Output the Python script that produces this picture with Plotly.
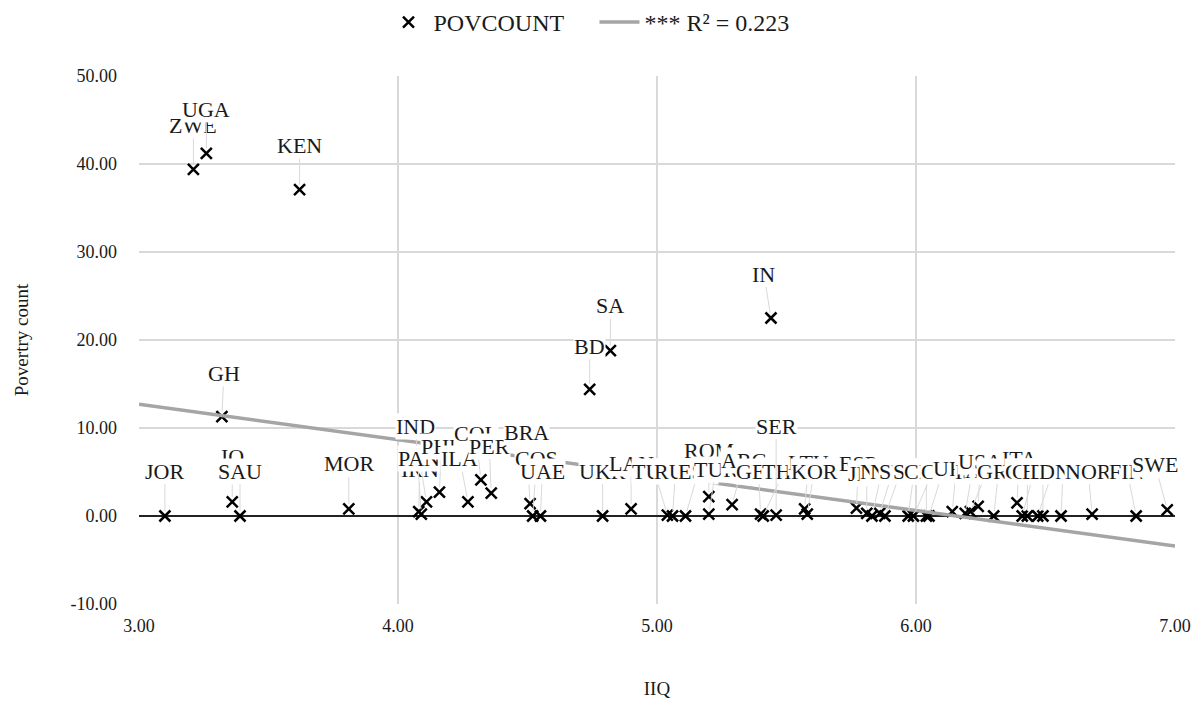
import plotly.graph_objects as go

# ---- data ----
countries = ["JOR", "IQ", "SAU", "GH", "ZWE", "UGA", "KEN", "MOR", "IRN", "IND",
             "PAN", "PHP", "ILA", "COL", "PER", "BRA", "COS", "UAE", "BD", "UKR",
             "SA", "LAN", "TUN", "RUS", "EST", "ROM", "TUR", "ARG", "GEO", "THA",
             "IN", "SER", "LTU", "KOR", "ESP", "JPN", "NZL", "NLD", "SVK", "SLO",
             "CZE", "CRO", "CYP", "URU", "ISR", "AUS", "USA", "GRE", "ITA", "CHL",
             "CHE", "BEL", "DEU", "DNK", "NOR", "FIN", "SWE"]
iiq = [3.10, 3.36, 3.39, 3.32, 3.21, 3.26, 3.62, 3.81, 4.08, 4.09,
       4.11, 4.16, 4.27, 4.32, 4.36, 4.51, 4.52, 4.55, 4.74, 4.79,
       4.82, 4.90, 5.04, 5.06, 5.11, 5.20, 5.20, 5.29, 5.40, 5.41,
       5.44, 5.46, 5.57, 5.58, 5.77, 5.81, 5.83, 5.86, 5.88, 5.97,
       5.99, 6.04, 6.05, 6.14, 6.19, 6.21, 6.24, 6.30, 6.39, 6.43,
       6.41, 6.49, 6.47, 6.56, 6.68, 6.85, 6.97]
povcount = [0.0, 1.6, 0.0, 11.3, 39.4, 41.2, 37.1, 0.8, 0.5, 0.2,
            1.6, 2.7, 1.6, 4.1, 2.6, 1.4, 0.0, 0.0, 14.4, 0.0,
            18.8, 0.8, 0.1, 0.0, 0.0, 2.2, 0.2, 1.3, 0.2, 0.0,
            22.5, 0.1, 0.8, 0.2, 0.9, 0.3, 0.0, 0.3, 0.0, 0.0,
            0.0, 0.0, 0.0, 0.5, 0.3, 0.5, 1.1, 0.0, 1.5, 0.0,
            0.0, 0.0, 0.0, 0.0, 0.2, 0.0, 0.7]

# regression trendline end points
trend_x = [3.0, 7.0]
trend_y = [12.7, -3.4]

x_ticks = [3, 4, 5, 6, 7]
y_ticks = [-10, 0, 10, 20, 30, 40, 50]
x_ticktext = ["3.00", "4.00", "5.00", "6.00", "7.00"]
y_ticktext = ["-10.00", "0.00", "10.00", "20.00", "30.00", "40.00", "50.00"]

# label offsets (pixels) relative to each point (layout)
lab_dx = [0, 0, 0, 2, 0, 0, 0, 0, 1, -6,
          -7, 2, -8, -5, -2, -4, 4, 2, 0, 0,
          0, 0, -13, 3, 13, 0, 7, 12, -2, 21,
          -7, 0, 4, 7, 2, 0, 10, 13, 16, 6,
          20, 0, 14, 4, 7, 17, 2, 5, 2, 0,
          12, 0, 15, 2, -4, -9, -12]
lab_dy = [-45, -45, -45, -43, -44, -44, -44, -45, -42, -88,
          -43, -46, -43, -46, -47, -71, -58, -45, -43, -45,
          -45, -45, -44, -45, -45, -46, -45, -44, -43, -45,
          -44, -89, -46, -43, -45, -40, -45, -42, -45, -45,
          -45, -45, -45, -43, -42, -41, -45, -45, -44, -45,
          -45, -45, -45, -45, -43, -45, -45]

FONT = "Liberation Serif"
TXT = "#1a1a1a"

fig = go.Figure()
fig.add_trace(go.Scatter(
    x=iiq, y=povcount, mode="markers", name="POVCOUNT",
    marker=dict(symbol="x-thin", size=11, color="black",
                line=dict(color="black", width=2.5)),
))
fig.add_trace(go.Scatter(
    x=trend_x, y=trend_y, mode="lines", name="*** R² = 0.223",
    line=dict(color="#a5a5a5", width=3.5),
))

annotations = []
for c, x, y, dx, dy in zip(countries, iiq, povcount, lab_dx, lab_dy):
    annotations.append(dict(
        x=x, y=y, xref="x", yref="y", text=c,
        showarrow=True, arrowhead=0, arrowwidth=1, arrowcolor="#d9d9d9",
        ax=dx, ay=dy, standoff=5, bgcolor="white", borderpad=0,
        font=dict(family=FONT, size=22, color=TXT),
    ))

fig.update_layout(
    width=1201, height=707,
    paper_bgcolor="white", plot_bgcolor="white",
    margin=dict(l=139, r=26, t=76, b=103, autoexpand=False),
    font=dict(family=FONT, size=18, color=TXT),
    showlegend=True,
    legend=dict(orientation="h", xref="container", x=0.495, xanchor="center",
                yref="container", y=1.0, yanchor="top",
                font=dict(family=FONT, size=24, color=TXT),
                itemwidth=40, entrywidth=156, traceorder="normal"),
    annotations=annotations,
)
fig.update_xaxes(
    range=[3, 7], tickvals=x_ticks, ticktext=x_ticktext, automargin=False,
    showgrid=True, gridcolor="#d9d9d9", gridwidth=1.5,
    zeroline=False, showline=False, ticks="", ticklabelstandoff=9,
    tickfont=dict(family=FONT, size=18, color=TXT),
    title=dict(text="IIQ", font=dict(family=FONT, size=19, color=TXT), standoff=46),
)
fig.update_yaxes(
    range=[-10, 50], tickvals=y_ticks, ticktext=y_ticktext, automargin=False,
    showgrid=True, gridcolor="#d9d9d9", gridwidth=1.5,
    zeroline=True, zerolinecolor="#222", zerolinewidth=1.5,
    showline=False, ticks="", ticklabelstandoff=21,
    tickfont=dict(family=FONT, size=18, color=TXT),
    title=dict(text="Povertry count", font=dict(family=FONT, size=19, color=TXT), standoff=36),
)

fig.write_html("out.html", config={"displayModeBar": False},
               post_script="document.body.style.margin='0';")
